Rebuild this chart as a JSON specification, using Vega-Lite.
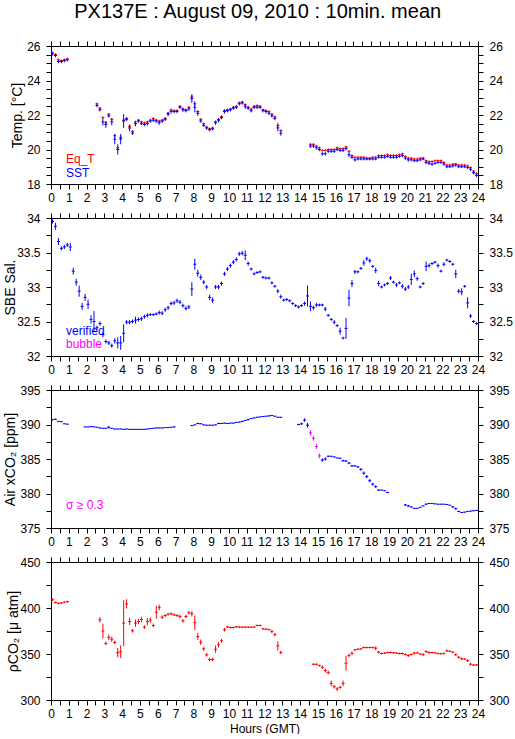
{
"$schema":"https://vega.github.io/schema/vega-lite/v6.json",
"padding":{"left":2,"top":2,"right":0,"bottom":0},
"title":{"text":"PX137E : August 09, 2010 : 10min. mean","fontSize":20,"fontWeight":"normal","font":"Liberation Sans","color":"#000","anchor":"middle","offset":18},
"datasets":{
"eqt":[{"t":0.083,"v":25.6,"e":0.07},{"t":0.25,"v":25.5,"e":0.07},{"t":0.417,"v":25.2,"e":0.07},{"t":0.583,"v":25.15,"e":0.07},{"t":0.75,"v":25.2,"e":0.07},{"t":0.917,"v":25.25,"e":0.07},
{"t":2.583,"v":22.65,"e":0.07},{"t":2.75,"v":22.4,"e":0.07},{"t":2.917,"v":21.85,"e":0.07},{"t":3.083,"v":21.55,"e":0.07},{"t":3.25,"v":22.05,"e":0.07},{"t":3.417,"v":21.75,"e":0.07},{"t":3.583,"v":20.8,"e":0.1},{"t":3.75,"v":20.1,"e":0.1},{"t":3.917,"v":20.7,"e":0.1},{"t":4.083,"v":21.7,"e":0.1},{"t":4.25,"v":21.8,"e":0.07},{"t":4.417,"v":21.35,"e":0.07},{"t":4.583,"v":21.05,"e":0.07},{"t":4.75,"v":21.6,"e":0.07},{"t":4.917,"v":21.7,"e":0.07},{"t":5.083,"v":21.6,"e":0.07},{"t":5.25,"v":21.55,"e":0.07},{"t":5.417,"v":21.6,"e":0.07},{"t":5.583,"v":21.7,"e":0.07},{"t":5.75,"v":21.8,"e":0.07},{"t":5.917,"v":21.7,"e":0.07},{"t":6.083,"v":21.65,"e":0.07},{"t":6.25,"v":21.7,"e":0.07},{"t":6.417,"v":21.8,"e":0.07},{"t":6.583,"v":22.1,"e":0.07},{"t":6.75,"v":22.3,"e":0.07},{"t":6.917,"v":22.25,"e":0.07},{"t":7.083,"v":22.25,"e":0.07},{"t":7.25,"v":22.5,"e":0.07},{"t":7.417,"v":22.35,"e":0.07},{"t":7.583,"v":22.3,"e":0.07},{"t":7.75,"v":22.45,"e":0.07},{"t":7.917,"v":23.05,"e":0.1},{"t":8.083,"v":22.65,"e":0.15},{"t":8.25,"v":22.2,"e":0.07},{"t":8.417,"v":21.75,"e":0.07},{"t":8.583,"v":21.5,"e":0.07},{"t":8.75,"v":21.3,"e":0.07},{"t":8.917,"v":21.2,"e":0.07},{"t":9.083,"v":21.25,"e":0.07},{"t":9.25,"v":21.6,"e":0.07},{"t":9.417,"v":21.75,"e":0.07},{"t":9.583,"v":21.9,"e":0.07},{"t":9.75,"v":22.25,"e":0.07},{"t":9.917,"v":22.3,"e":0.07},{"t":10.083,"v":22.35,"e":0.07},{"t":10.25,"v":22.45,"e":0.07},{"t":10.417,"v":22.5,"e":0.07},{"t":10.583,"v":22.7,"e":0.07},{"t":10.75,"v":22.75,"e":0.07},{"t":10.917,"v":22.6,"e":0.07},{"t":11.083,"v":22.45,"e":0.07},{"t":11.25,"v":22.35,"e":0.07},{"t":11.417,"v":22.5,"e":0.07},{"t":11.583,"v":22.55,"e":0.07},{"t":11.75,"v":22.5,"e":0.07},{"t":11.917,"v":22.3,"e":0.07},{"t":12.083,"v":22.25,"e":0.07},{"t":12.25,"v":22.2,"e":0.07},{"t":12.417,"v":22.05,"e":0.07},{"t":12.583,"v":21.9,"e":0.07},{"t":12.75,"v":21.4,"e":0.15},{"t":12.917,"v":21.1,"e":0.07},
{"t":14.583,"v":20.3,"e":0.07},{"t":14.75,"v":20.3,"e":0.07},{"t":14.917,"v":20.2,"e":0.07},{"t":15.083,"v":20.1,"e":0.07},{"t":15.25,"v":19.95,"e":0.07},{"t":15.417,"v":19.95,"e":0.07},{"t":15.583,"v":20.0,"e":0.07},{"t":15.75,"v":20.0,"e":0.07},{"t":15.917,"v":20.0,"e":0.07},{"t":16.083,"v":20.1,"e":0.07},{"t":16.25,"v":20.05,"e":0.07},{"t":16.417,"v":20.05,"e":0.07},{"t":16.583,"v":20.15,"e":0.07},{"t":16.75,"v":19.9,"e":0.07},{"t":16.917,"v":19.65,"e":0.07},{"t":17.083,"v":19.55,"e":0.07},{"t":17.25,"v":19.55,"e":0.07},{"t":17.417,"v":19.55,"e":0.07},{"t":17.583,"v":19.55,"e":0.07},{"t":17.75,"v":19.5,"e":0.07},{"t":17.917,"v":19.5,"e":0.07},{"t":18.083,"v":19.55,"e":0.07},{"t":18.25,"v":19.55,"e":0.07},{"t":18.417,"v":19.65,"e":0.07},{"t":18.583,"v":19.65,"e":0.07},{"t":18.75,"v":19.65,"e":0.07},{"t":18.917,"v":19.7,"e":0.07},{"t":19.083,"v":19.65,"e":0.07},{"t":19.25,"v":19.65,"e":0.07},{"t":19.417,"v":19.65,"e":0.07},{"t":19.583,"v":19.7,"e":0.07},{"t":19.75,"v":19.75,"e":0.07},{"t":19.917,"v":19.6,"e":0.07},{"t":20.083,"v":19.5,"e":0.07},{"t":20.25,"v":19.5,"e":0.07},{"t":20.417,"v":19.45,"e":0.07},{"t":20.583,"v":19.45,"e":0.07},{"t":20.75,"v":19.5,"e":0.07},{"t":20.917,"v":19.5,"e":0.07},{"t":21.083,"v":19.35,"e":0.07},{"t":21.25,"v":19.3,"e":0.07},{"t":21.417,"v":19.3,"e":0.07},{"t":21.583,"v":19.35,"e":0.07},{"t":21.75,"v":19.35,"e":0.07},{"t":21.917,"v":19.35,"e":0.07},{"t":22.083,"v":19.25,"e":0.07},{"t":22.25,"v":19.1,"e":0.07},{"t":22.417,"v":19.1,"e":0.07},{"t":22.583,"v":19.15,"e":0.07},{"t":22.75,"v":19.15,"e":0.07},{"t":22.917,"v":19.1,"e":0.07},{"t":23.083,"v":19.1,"e":0.07},{"t":23.25,"v":19.1,"e":0.07},{"t":23.417,"v":19.05,"e":0.07},{"t":23.583,"v":18.95,"e":0.07},{"t":23.75,"v":18.75,"e":0.07},{"t":23.917,"v":18.6,"e":0.07}],
"sst":[{"t":0.083,"v":25.55,"e":0.1},{"t":0.25,"v":25.45,"e":0.1},{"t":0.417,"v":25.1,"e":0.1},{"t":0.583,"v":25.1,"e":0.1},{"t":0.75,"v":25.15,"e":0.1},{"t":0.917,"v":25.2,"e":0.1},
{"t":2.583,"v":22.55,"e":0.1},{"t":2.75,"v":22.3,"e":0.1},{"t":2.917,"v":21.6,"e":0.2},{"t":3.083,"v":21.45,"e":0.2},{"t":3.25,"v":21.95,"e":0.1},{"t":3.417,"v":21.6,"e":0.2},{"t":3.583,"v":20.6,"e":0.3},{"t":3.75,"v":20.0,"e":0.3},{"t":3.917,"v":20.6,"e":0.3},{"t":4.083,"v":21.65,"e":0.4},{"t":4.25,"v":21.75,"e":0.1},{"t":4.417,"v":21.25,"e":0.2},{"t":4.583,"v":20.95,"e":0.1},{"t":4.75,"v":21.5,"e":0.15},{"t":4.917,"v":21.65,"e":0.1},{"t":5.083,"v":21.5,"e":0.1},{"t":5.25,"v":21.45,"e":0.1},{"t":5.417,"v":21.5,"e":0.1},{"t":5.583,"v":21.65,"e":0.1},{"t":5.75,"v":21.7,"e":0.1},{"t":5.917,"v":21.65,"e":0.1},{"t":6.083,"v":21.55,"e":0.12},{"t":6.25,"v":21.65,"e":0.1},{"t":6.417,"v":21.75,"e":0.1},{"t":6.583,"v":22.05,"e":0.12},{"t":6.75,"v":22.2,"e":0.12},{"t":6.917,"v":22.2,"e":0.1},{"t":7.083,"v":22.2,"e":0.1},{"t":7.25,"v":22.45,"e":0.1},{"t":7.417,"v":22.3,"e":0.12},{"t":7.583,"v":22.25,"e":0.1},{"t":7.75,"v":22.35,"e":0.1},{"t":7.917,"v":22.95,"e":0.25},{"t":8.083,"v":22.45,"e":0.3},{"t":8.25,"v":22.1,"e":0.15},{"t":8.417,"v":21.65,"e":0.1},{"t":8.583,"v":21.4,"e":0.1},{"t":8.75,"v":21.25,"e":0.1},{"t":8.917,"v":21.15,"e":0.1},{"t":9.083,"v":21.2,"e":0.1},{"t":9.25,"v":21.55,"e":0.12},{"t":9.417,"v":21.7,"e":0.12},{"t":9.583,"v":21.85,"e":0.1},{"t":9.75,"v":22.2,"e":0.12},{"t":9.917,"v":22.25,"e":0.1},{"t":10.083,"v":22.3,"e":0.1},{"t":10.25,"v":22.4,"e":0.1},{"t":10.417,"v":22.45,"e":0.1},{"t":10.583,"v":22.65,"e":0.1},{"t":10.75,"v":22.7,"e":0.1},{"t":10.917,"v":22.5,"e":0.15},{"t":11.083,"v":22.4,"e":0.1},{"t":11.25,"v":22.25,"e":0.1},{"t":11.417,"v":22.45,"e":0.1},{"t":11.583,"v":22.45,"e":0.1},{"t":11.75,"v":22.45,"e":0.1},{"t":11.917,"v":22.25,"e":0.1},{"t":12.083,"v":22.2,"e":0.1},{"t":12.25,"v":22.1,"e":0.1},{"t":12.417,"v":21.95,"e":0.1},{"t":12.583,"v":21.8,"e":0.1},{"t":12.75,"v":21.25,"e":0.2},{"t":12.917,"v":20.95,"e":0.15},
{"t":14.583,"v":20.2,"e":0.1},{"t":14.75,"v":20.2,"e":0.1},{"t":14.917,"v":20.1,"e":0.1},{"t":15.083,"v":20.0,"e":0.1},{"t":15.25,"v":19.75,"e":0.1},{"t":15.417,"v":19.75,"e":0.1},{"t":15.583,"v":19.9,"e":0.1},{"t":15.75,"v":19.9,"e":0.1},{"t":15.917,"v":19.9,"e":0.1},{"t":16.083,"v":20.0,"e":0.1},{"t":16.25,"v":19.95,"e":0.1},{"t":16.417,"v":19.95,"e":0.1},{"t":16.583,"v":20.05,"e":0.1},{"t":16.75,"v":19.7,"e":0.15},{"t":16.917,"v":19.55,"e":0.1},{"t":17.083,"v":19.4,"e":0.1},{"t":17.25,"v":19.45,"e":0.08},{"t":17.417,"v":19.45,"e":0.08},{"t":17.583,"v":19.45,"e":0.08},{"t":17.75,"v":19.45,"e":0.08},{"t":17.917,"v":19.45,"e":0.08},{"t":18.083,"v":19.45,"e":0.08},{"t":18.25,"v":19.45,"e":0.08},{"t":18.417,"v":19.55,"e":0.08},{"t":18.583,"v":19.55,"e":0.08},{"t":18.75,"v":19.55,"e":0.08},{"t":18.917,"v":19.6,"e":0.08},{"t":19.083,"v":19.55,"e":0.08},{"t":19.25,"v":19.55,"e":0.08},{"t":19.417,"v":19.55,"e":0.08},{"t":19.583,"v":19.6,"e":0.08},{"t":19.75,"v":19.65,"e":0.1},{"t":19.917,"v":19.5,"e":0.1},{"t":20.083,"v":19.4,"e":0.1},{"t":20.25,"v":19.4,"e":0.08},{"t":20.417,"v":19.35,"e":0.08},{"t":20.583,"v":19.35,"e":0.08},{"t":20.75,"v":19.4,"e":0.08},{"t":20.917,"v":19.45,"e":0.08},{"t":21.083,"v":19.25,"e":0.1},{"t":21.25,"v":19.2,"e":0.1},{"t":21.417,"v":19.15,"e":0.1},{"t":21.583,"v":19.2,"e":0.08},{"t":21.75,"v":19.25,"e":0.08},{"t":21.917,"v":19.25,"e":0.08},{"t":22.083,"v":19.15,"e":0.1},{"t":22.25,"v":19.0,"e":0.08},{"t":22.417,"v":19.0,"e":0.08},{"t":22.583,"v":19.05,"e":0.1},{"t":22.75,"v":19.1,"e":0.1},{"t":22.917,"v":19.0,"e":0.08},{"t":23.083,"v":19.0,"e":0.08},{"t":23.25,"v":19.0,"e":0.08},{"t":23.417,"v":18.95,"e":0.08},{"t":23.583,"v":18.85,"e":0.1},{"t":23.75,"v":18.65,"e":0.1},{"t":23.917,"v":18.5,"e":0.1}],
"sal":[{"t":0.083,"v":33.95,"e":0.03},{"t":0.25,"v":33.88,"e":0.05},{"t":0.417,"v":33.66,"e":0.05},{"t":0.583,"v":33.56,"e":0.03},{"t":0.75,"v":33.58,"e":0.03},{"t":0.917,"v":33.61,"e":0.03},{"t":1.083,"v":33.58,"e":0.06},{"t":1.25,"v":33.23,"e":0.05},{"t":1.417,"v":33.07,"e":0.05},{"t":1.583,"v":32.94,"e":0.08},{"t":1.75,"v":32.72,"e":0.05},{"t":1.917,"v":32.85,"e":0.05},{"t":2.083,"v":32.75,"e":0.07},{"t":2.25,"v":32.53,"e":0.06},{"t":2.417,"v":32.5,"e":0.15},{"t":2.583,"v":32.41,"e":0.03},{"t":2.75,"v":32.47,"e":0.03},{"t":2.917,"v":32.31,"e":0.04},{"t":3.083,"v":32.21,"e":0.03},{"t":3.25,"v":32.19,"e":0.03},{"t":3.417,"v":32.15,"e":0.03},{"t":3.583,"v":32.22,"e":0.04},{"t":3.75,"v":32.19,"e":0.08},{"t":3.917,"v":32.19,"e":0.1},{"t":4.083,"v":32.33,"e":0.13},{"t":4.25,"v":32.49,"e":0.03},{"t":4.417,"v":32.49,"e":0.03},{"t":4.583,"v":32.5,"e":0.03},{"t":4.75,"v":32.52,"e":0.05},{"t":4.917,"v":32.53,"e":0.03},{"t":5.083,"v":32.54,"e":0.03},{"t":5.25,"v":32.57,"e":0.03},{"t":5.417,"v":32.59,"e":0.03},{"t":5.583,"v":32.6,"e":0.02},{"t":5.75,"v":32.6,"e":0.02},{"t":5.917,"v":32.61,"e":0.02},{"t":6.083,"v":32.63,"e":0.03},{"t":6.25,"v":32.62,"e":0.03},{"t":6.417,"v":32.67,"e":0.03},{"t":6.583,"v":32.7,"e":0.03},{"t":6.75,"v":32.76,"e":0.03},{"t":6.917,"v":32.77,"e":0.03},{"t":7.083,"v":32.8,"e":0.03},{"t":7.25,"v":32.78,"e":0.03},{"t":7.417,"v":32.73,"e":0.03},{"t":7.583,"v":32.69,"e":0.03},{"t":7.75,"v":32.71,"e":0.03},{"t":7.917,"v":32.97,"e":0.1},{"t":8.083,"v":33.33,"e":0.08},{"t":8.25,"v":33.2,"e":0.05},{"t":8.417,"v":33.14,"e":0.04},{"t":8.583,"v":33.07,"e":0.03},{"t":8.75,"v":33.0,"e":0.03},{"t":8.917,"v":32.85,"e":0.04},{"t":9.083,"v":32.81,"e":0.04},{"t":9.25,"v":33.0,"e":0.03},{"t":9.417,"v":33.0,"e":0.03},{"t":9.583,"v":33.05,"e":0.03},{"t":9.75,"v":33.19,"e":0.03},{"t":9.917,"v":33.26,"e":0.03},{"t":10.083,"v":33.31,"e":0.03},{"t":10.25,"v":33.36,"e":0.03},{"t":10.417,"v":33.4,"e":0.03},{"t":10.583,"v":33.48,"e":0.03},{"t":10.75,"v":33.49,"e":0.03},{"t":10.917,"v":33.46,"e":0.07},{"t":11.083,"v":33.34,"e":0.03},{"t":11.25,"v":33.26,"e":0.02},{"t":11.417,"v":33.19,"e":0.02},{"t":11.583,"v":33.21,"e":0.02},{"t":11.75,"v":33.22,"e":0.02},{"t":11.917,"v":33.14,"e":0.02},{"t":12.083,"v":33.13,"e":0.02},{"t":12.25,"v":33.13,"e":0.02},{"t":12.417,"v":33.06,"e":0.02},{"t":12.583,"v":33.01,"e":0.02},{"t":12.75,"v":32.94,"e":0.03},{"t":12.917,"v":32.86,"e":0.03},{"t":13.083,"v":32.81,"e":0.02},{"t":13.25,"v":32.82,"e":0.02},{"t":13.417,"v":32.8,"e":0.02},{"t":13.583,"v":32.76,"e":0.02},{"t":13.75,"v":32.73,"e":0.02},{"t":13.917,"v":32.71,"e":0.02},{"t":14.083,"v":32.73,"e":0.02},{"t":14.25,"v":32.76,"e":0.03},{"t":14.417,"v":32.87,"e":0.15},{"t":14.583,"v":32.72,"e":0.07},{"t":14.75,"v":32.7,"e":0.03},{"t":14.917,"v":32.74,"e":0.03},{"t":15.083,"v":32.74,"e":0.02},{"t":15.25,"v":32.74,"e":0.02},{"t":15.417,"v":32.68,"e":0.03},{"t":15.583,"v":32.59,"e":0.02},{"t":15.75,"v":32.53,"e":0.02},{"t":15.917,"v":32.49,"e":0.03},{"t":16.083,"v":32.44,"e":0.02},{"t":16.25,"v":32.36,"e":0.05},{"t":16.417,"v":32.26,"e":0.02},{"t":16.583,"v":32.4,"e":0.15},{"t":16.75,"v":32.84,"e":0.12},{"t":16.917,"v":33.05,"e":0.05},{"t":17.083,"v":33.22,"e":0.03},{"t":17.25,"v":33.22,"e":0.02},{"t":17.417,"v":33.27,"e":0.02},{"t":17.583,"v":33.35,"e":0.04},{"t":17.75,"v":33.41,"e":0.03},{"t":17.917,"v":33.38,"e":0.03},{"t":18.083,"v":33.3,"e":0.02},{"t":18.25,"v":33.24,"e":0.04},{"t":18.417,"v":33.05,"e":0.04},{"t":18.583,"v":33.0,"e":0.02},{"t":18.75,"v":33.03,"e":0.02},{"t":18.917,"v":33.05,"e":0.02},{"t":19.083,"v":33.13,"e":0.03},{"t":19.25,"v":33.07,"e":0.02},{"t":19.417,"v":33.03,"e":0.03},{"t":19.583,"v":33.06,"e":0.02},{"t":19.75,"v":33.01,"e":0.03},{"t":19.917,"v":32.97,"e":0.03},{"t":20.083,"v":33.0,"e":0.03},{"t":20.25,"v":33.11,"e":0.08},{"t":20.417,"v":33.19,"e":0.05},{"t":20.583,"v":33.12,"e":0.03},{"t":20.75,"v":33.0,"e":0.02},{"t":20.917,"v":33.05,"e":0.02},{"t":21.083,"v":33.3,"e":0.07},{"t":21.25,"v":33.31,"e":0.03},{"t":21.417,"v":33.34,"e":0.02},{"t":21.583,"v":33.36,"e":0.02},{"t":21.75,"v":33.31,"e":0.03},{"t":21.917,"v":33.23,"e":0.02},{"t":22.083,"v":33.33,"e":0.03},{"t":22.25,"v":33.39,"e":0.02},{"t":22.417,"v":33.37,"e":0.02},{"t":22.583,"v":33.33,"e":0.02},{"t":22.75,"v":33.19,"e":0.06},{"t":22.917,"v":32.94,"e":0.03},{"t":23.083,"v":32.93,"e":0.05},{"t":23.25,"v":33.01,"e":0.02},{"t":23.417,"v":32.77,"e":0.08},{"t":23.583,"v":32.58,"e":0.03},{"t":23.75,"v":32.5,"e":0.02},{"t":23.917,"v":32.47,"e":0.02}],
"air":[{"t":0.083,"v":390.7,"e":0.1},{"t":0.25,"v":390.75,"e":0.1},{"t":0.417,"v":390.45,"e":0.05},{"t":0.583,"v":390.4,"e":0.05},{"t":0.75,"v":390.1,"e":0.05},{"t":0.917,"v":390.05,"e":0.05},
{"t":1.917,"v":389.65,"e":0.05},{"t":2.083,"v":389.65,"e":0.05},{"t":2.25,"v":389.7,"e":0.1},{"t":2.417,"v":389.65,"e":0.05},{"t":2.583,"v":389.6,"e":0.05},{"t":2.75,"v":389.5,"e":0.05},{"t":2.917,"v":389.45,"e":0.05},{"t":3.083,"v":389.45,"e":0.05},{"t":3.25,"v":389.6,"e":0.2},{"t":3.417,"v":389.45,"e":0.05},{"t":3.583,"v":389.35,"e":0.05},{"t":3.75,"v":389.35,"e":0.05},{"t":3.917,"v":389.35,"e":0.05},{"t":4.083,"v":389.3,"e":0.05},{"t":4.25,"v":389.35,"e":0.05},{"t":4.417,"v":389.3,"e":0.05},{"t":4.583,"v":389.3,"e":0.05},{"t":4.75,"v":389.3,"e":0.05},{"t":4.917,"v":389.3,"e":0.05},{"t":5.083,"v":389.3,"e":0.05},{"t":5.25,"v":389.3,"e":0.05},{"t":5.417,"v":389.35,"e":0.05},{"t":5.583,"v":389.4,"e":0.05},{"t":5.75,"v":389.45,"e":0.05},{"t":5.917,"v":389.5,"e":0.05},{"t":6.083,"v":389.5,"e":0.05},{"t":6.25,"v":389.5,"e":0.05},{"t":6.417,"v":389.55,"e":0.05},{"t":6.583,"v":389.55,"e":0.05},{"t":6.75,"v":389.6,"e":0.05},{"t":6.917,"v":389.65,"e":0.1},
{"t":7.917,"v":389.85,"e":0.05},{"t":8.083,"v":389.95,"e":0.05},{"t":8.25,"v":390.15,"e":0.1},{"t":8.417,"v":390.1,"e":0.05},{"t":8.583,"v":389.95,"e":0.05},{"t":8.75,"v":389.9,"e":0.05},{"t":8.917,"v":389.9,"e":0.05},{"t":9.083,"v":389.9,"e":0.05},{"t":9.25,"v":389.95,"e":0.05},{"t":9.417,"v":390.15,"e":0.1},{"t":9.583,"v":390.15,"e":0.05},{"t":9.75,"v":390.2,"e":0.05},{"t":9.917,"v":390.15,"e":0.05},{"t":10.083,"v":390.2,"e":0.05},{"t":10.25,"v":390.2,"e":0.05},{"t":10.417,"v":390.3,"e":0.05},{"t":10.583,"v":390.35,"e":0.05},{"t":10.75,"v":390.45,"e":0.1},{"t":10.917,"v":390.6,"e":0.05},{"t":11.083,"v":390.7,"e":0.1},{"t":11.25,"v":390.85,"e":0.05},{"t":11.417,"v":390.95,"e":0.05},{"t":11.583,"v":391.05,"e":0.05},{"t":11.75,"v":391.1,"e":0.05},{"t":11.917,"v":391.15,"e":0.05},{"t":12.083,"v":391.2,"e":0.05},{"t":12.25,"v":391.25,"e":0.1},{"t":12.417,"v":391.3,"e":0.05},{"t":12.583,"v":391.2,"e":0.05},{"t":12.75,"v":391.05,"e":0.05},{"t":12.917,"v":391.05,"e":0.05},
{"t":13.917,"v":390.0,"e":0.1},{"t":14.083,"v":390.1,"e":0.15},{"t":14.25,"v":390.65,"e":0.25},{"t":14.417,"v":389.9,"e":0.35},
{"t":15.25,"v":384.85,"e":0.25},{"t":15.417,"v":385.0,"e":0.25},{"t":15.583,"v":385.4,"e":0.1},{"t":15.75,"v":385.4,"e":0.05},{"t":15.917,"v":385.3,"e":0.05},{"t":16.083,"v":385.15,"e":0.05},{"t":16.25,"v":385.1,"e":0.1},{"t":16.417,"v":384.75,"e":0.15},{"t":16.583,"v":384.7,"e":0.15},{"t":16.75,"v":384.4,"e":0.15},{"t":16.917,"v":384.0,"e":0.15},{"t":17.083,"v":384.0,"e":0.1},{"t":17.25,"v":383.85,"e":0.15},{"t":17.417,"v":383.5,"e":0.2},{"t":17.583,"v":382.95,"e":0.25},{"t":17.75,"v":382.45,"e":0.25},{"t":17.917,"v":381.85,"e":0.25},{"t":18.083,"v":381.35,"e":0.2},{"t":18.25,"v":381.0,"e":0.2},{"t":18.417,"v":380.5,"e":0.1},{"t":18.583,"v":380.5,"e":0.05},{"t":18.75,"v":380.4,"e":0.05},{"t":18.917,"v":380.15,"e":0.1},
{"t":19.917,"v":378.35,"e":0.15},{"t":20.083,"v":378.2,"e":0.15},{"t":20.25,"v":378.05,"e":0.1},{"t":20.417,"v":377.85,"e":0.05},{"t":20.583,"v":377.85,"e":0.05},{"t":20.75,"v":378.0,"e":0.05},{"t":20.917,"v":378.2,"e":0.05},{"t":21.083,"v":378.45,"e":0.1},{"t":21.25,"v":378.55,"e":0.05},{"t":21.417,"v":378.55,"e":0.05},{"t":21.583,"v":378.5,"e":0.05},{"t":21.75,"v":378.45,"e":0.05},{"t":21.917,"v":378.45,"e":0.05},{"t":22.083,"v":378.45,"e":0.05},{"t":22.25,"v":378.4,"e":0.05},{"t":22.417,"v":378.3,"e":0.05},{"t":22.583,"v":378.05,"e":0.15},{"t":22.75,"v":377.8,"e":0.15},{"t":22.917,"v":377.4,"e":0.1},{"t":23.083,"v":377.25,"e":0.05},{"t":23.25,"v":377.3,"e":0.05},{"t":23.417,"v":377.4,"e":0.05},{"t":23.583,"v":377.45,"e":0.05},{"t":23.75,"v":377.5,"e":0.05},{"t":23.917,"v":377.55,"e":0.05}],
"airs":[{"t":14.583,"v":388.8,"e":0.4},{"t":14.75,"v":388.0,"e":0.35},{"t":14.917,"v":386.8,"e":0.35},{"t":15.083,"v":385.45,"e":0.35}],
"pco2":[{"t":0.083,"v":409,"e":1.5},{"t":0.25,"v":406,"e":1},{"t":0.417,"v":405,"e":1},{"t":0.583,"v":405.5,"e":1},{"t":0.75,"v":406.3,"e":1},{"t":0.917,"v":406.8,"e":1},
{"t":2.75,"v":387.2,"e":3},{"t":2.917,"v":375,"e":8},{"t":3.083,"v":361.5,"e":2},{"t":3.25,"v":368,"e":3},{"t":3.417,"v":366,"e":3},{"t":3.583,"v":362.5,"e":2},{"t":3.75,"v":351.5,"e":5},{"t":3.917,"v":352.5,"e":7},{"t":4.083,"v":383.5,"e":25},{"t":4.25,"v":404.5,"e":5},{"t":4.417,"v":385.3,"e":4},{"t":4.583,"v":375.2,"e":2},{"t":4.75,"v":383.5,"e":4},{"t":4.917,"v":385.3,"e":3},{"t":5.083,"v":387.5,"e":3},{"t":5.25,"v":379.2,"e":2},{"t":5.417,"v":385.3,"e":4},{"t":5.583,"v":386.8,"e":3},{"t":5.75,"v":381,"e":2},{"t":5.917,"v":395.5,"e":7},{"t":6.083,"v":400.6,"e":3},{"t":6.25,"v":390,"e":2},{"t":6.417,"v":391.8,"e":1.5},{"t":6.583,"v":393.2,"e":1.5},{"t":6.75,"v":393.7,"e":1.5},{"t":6.917,"v":392.6,"e":1.5},{"t":7.083,"v":391.8,"e":1.5},{"t":7.25,"v":390.8,"e":2},{"t":7.417,"v":386,"e":2},{"t":7.583,"v":390.8,"e":2},{"t":7.75,"v":394.8,"e":2},{"t":7.917,"v":393.8,"e":3},{"t":8.083,"v":384,"e":8},{"t":8.25,"v":369,"e":4},{"t":8.417,"v":362.8,"e":3},{"t":8.583,"v":355.6,"e":2},{"t":8.75,"v":349,"e":2},{"t":8.917,"v":344,"e":2},{"t":9.083,"v":344,"e":2},{"t":9.25,"v":355.2,"e":4},{"t":9.417,"v":360,"e":3},{"t":9.583,"v":364.3,"e":2},{"t":9.75,"v":376.3,"e":2},{"t":9.917,"v":379.5,"e":1},{"t":10.083,"v":378.8,"e":1},{"t":10.25,"v":378.8,"e":1},{"t":10.417,"v":379.5,"e":1},{"t":10.583,"v":379.2,"e":1},{"t":10.75,"v":379.2,"e":1},{"t":10.917,"v":379.2,"e":1},{"t":11.083,"v":379.2,"e":1},{"t":11.25,"v":379.2,"e":1},{"t":11.417,"v":379.2,"e":1},{"t":11.583,"v":381,"e":1},{"t":11.75,"v":381,"e":1},{"t":11.917,"v":377.4,"e":1},{"t":12.083,"v":377,"e":1},{"t":12.25,"v":376.5,"e":1},{"t":12.417,"v":374.4,"e":2},{"t":12.583,"v":371,"e":2},{"t":12.75,"v":358.8,"e":5},{"t":12.917,"v":351.6,"e":2},
{"t":14.75,"v":338.8,"e":1},{"t":14.917,"v":338.8,"e":1},{"t":15.083,"v":337.4,"e":1},{"t":15.25,"v":335.6,"e":2},{"t":15.417,"v":332,"e":2},{"t":15.583,"v":329.8,"e":2},{"t":15.75,"v":318.1,"e":3},{"t":15.917,"v":314.5,"e":2},{"t":16.083,"v":312,"e":2},{"t":16.25,"v":313.8,"e":1.5},{"t":16.417,"v":318.1,"e":3},{"t":16.583,"v":340,"e":8},{"t":16.75,"v":348.3,"e":2},{"t":16.917,"v":350.8,"e":2},{"t":17.083,"v":354.5,"e":1},{"t":17.25,"v":355.2,"e":1},{"t":17.417,"v":355.6,"e":1},{"t":17.583,"v":357,"e":1},{"t":17.75,"v":357,"e":1},{"t":17.917,"v":357,"e":1},{"t":18.083,"v":357,"e":1},{"t":18.25,"v":356.3,"e":2},{"t":18.417,"v":352,"e":1.5},{"t":18.583,"v":350.5,"e":1},{"t":18.75,"v":351,"e":1},{"t":18.917,"v":351.6,"e":1},{"t":19.083,"v":351.6,"e":1},{"t":19.25,"v":351.3,"e":1},{"t":19.417,"v":351,"e":1},{"t":19.583,"v":350.5,"e":1},{"t":19.75,"v":350.5,"e":1},{"t":19.917,"v":349.5,"e":1},{"t":20.083,"v":348.3,"e":1.5},{"t":20.25,"v":349.5,"e":1},{"t":20.417,"v":351,"e":1.5},{"t":20.583,"v":351.3,"e":1},{"t":20.75,"v":350,"e":1},{"t":20.917,"v":349.3,"e":1.5},{"t":21.083,"v":352.6,"e":1.5},{"t":21.25,"v":351.6,"e":1.5},{"t":21.417,"v":351.6,"e":1},{"t":21.583,"v":351.3,"e":1},{"t":21.75,"v":350.5,"e":1},{"t":21.917,"v":350.3,"e":1},{"t":22.083,"v":350.5,"e":1},{"t":22.25,"v":353.4,"e":1.5},{"t":22.417,"v":353,"e":1},{"t":22.583,"v":352,"e":1},{"t":22.75,"v":349.2,"e":1.5},{"t":22.917,"v":346.5,"e":1.5},{"t":23.083,"v":344.7,"e":1.5},{"t":23.25,"v":344.5,"e":1},{"t":23.417,"v":342.8,"e":1.5},{"t":23.583,"v":338.9,"e":1.5},{"t":23.75,"v":338,"e":1},{"t":23.917,"v":338.1,"e":1}]
},
"vconcat":[
{"width":427,"height":138,
 "layer":[
  {"data":{"name":"eqt"},"mark":{"type":"rule","xOffset":-1.5,"x2Offset":1.5,"strokeWidth":1},
   "encoding":{
    "x":{"field":"t","type":"quantitative","scale":{"domain":[0,24],"nice":false,"zero":false},
     "axis":{"orient":"bottom","values":[0,0.5,1,1.5,2,2.5,3,3.5,4,4.5,5,5.5,6,6.5,7,7.5,8,8.5,9,9.5,10,10.5,11,11.5,12,12.5,13,13.5,14,14.5,15,15.5,16,16.5,17,17.5,18,18.5,19,19.5,20,20.5,21,21.5,22,22.5,23,23.5,24],"labelExpr":"datum.value % 1 === 0 ? toString(datum.value) : ''","title":null,"labelPadding":3,"labelOverlap":false,"labelFlush":false,"labelBound":false}},
    "x2":{"field":"t"},
    "y":{"field":"v","type":"quantitative","scale":{"domain":[18,26],"nice":false,"zero":false},
     "axis":{"orient":"left","values":[18,18.5,19,19.5,20,20.5,21,21.5,22,22.5,23,23.5,24,24.5,25,25.5,26],"labelExpr":"datum.value % 2 === 0 ? toString(datum.value) : ''","title":"Temp. [°C]","labelPadding":6,"labelOverlap":false,"titleX":-34,"titleBaseline":"middle"}},
    "color":{"datum":"Eq_T","scale":{"domain":["Eq_T","SST"],"range":["#ff0000","#0000ff"]},
     "legend":{"orient":"none","legendX":3,"legendY":107,"direction":"vertical","title":null,"padding":0,"symbolSize":0,"symbolOpacity":0,"symbolStrokeWidth":0,"labelOffset":0,"labelFontSize":12,"labelFont":"Liberation Sans","rowPadding":2,
      "encode":{"labels":{"update":{"fill":{"signal":"datum.value === 'Eq_T' ? '#ff0000' : '#0000ff'"}}}}}}
   }},
  {"data":{"name":"eqt"},"mark":{"type":"errorbar","thickness":1,"color":"#ff0000"},
   "encoding":{
    "x":{"field":"t","type":"quantitative","scale":{"domain":[0,24],"nice":false,"zero":false},
     "axis":{"orient":"top","values":[0,0.5,1,1.5,2,2.5,3,3.5,4,4.5,5,5.5,6,6.5,7,7.5,8,8.5,9,9.5,10,10.5,11,11.5,12,12.5,13,13.5,14,14.5,15,15.5,16,16.5,17,17.5,18,18.5,19,19.5,20,20.5,21,21.5,22,22.5,23,23.5,24],"labels":false,"title":null}},
    "y":{"field":"v","type":"quantitative","scale":{"domain":[18,26],"nice":false,"zero":false},
     "axis":{"orient":"right","values":[18,18.5,19,19.5,20,20.5,21,21.5,22,22.5,23,23.5,24,24.5,25,25.5,26],"labelExpr":"datum.value % 2 === 0 ? toString(datum.value) : ''","title":null,"labelPadding":6,"labelOverlap":false}},
    "yError":{"field":"e"}
   }},
  {"data":{"name":"sst"},"mark":{"type":"rule","xOffset":-1.5,"x2Offset":1.5,"strokeWidth":1},
   "encoding":{
    "x":{"field":"t","type":"quantitative","scale":{"domain":[0,24],"nice":false,"zero":false},"axis":null},
    "x2":{"field":"t"},
    "y":{"field":"v","type":"quantitative","scale":{"domain":[18,26],"nice":false,"zero":false},"axis":null},
    "color":{"datum":"SST"}
   }},
  {"data":{"name":"sst"},"mark":{"type":"errorbar","thickness":1,"color":"#0000ff"},
   "encoding":{
    "x":{"field":"t","type":"quantitative","scale":{"domain":[0,24],"nice":false,"zero":false},"axis":null},
    "y":{"field":"v","type":"quantitative","scale":{"domain":[18,26],"nice":false,"zero":false},"axis":null},
    "yError":{"field":"e"}
   }}
 ],
 "resolve":{"axis":{"x":"independent","y":"independent"}}
},
{"width":427,"height":138,
 "data":{"name":"sal"},
 "layer":[
  {"mark":{"type":"rule","xOffset":-1.5,"x2Offset":1.5,"strokeWidth":1},
   "encoding":{
    "x":{"field":"t","type":"quantitative","scale":{"domain":[0,24],"nice":false,"zero":false},
     "axis":{"orient":"bottom","values":[0,0.5,1,1.5,2,2.5,3,3.5,4,4.5,5,5.5,6,6.5,7,7.5,8,8.5,9,9.5,10,10.5,11,11.5,12,12.5,13,13.5,14,14.5,15,15.5,16,16.5,17,17.5,18,18.5,19,19.5,20,20.5,21,21.5,22,22.5,23,23.5,24],"labelExpr":"datum.value % 1 === 0 ? toString(datum.value) : ''","title":null,"labelPadding":3,"labelOverlap":false,"labelFlush":false,"labelBound":false}},
    "x2":{"field":"t"},
    "y":{"field":"v","type":"quantitative","scale":{"domain":[32,34],"nice":false,"zero":false},
     "axis":{"orient":"left","values":[32,32.25,32.5,32.75,33,33.25,33.5,33.75,34],"labelExpr":"datum.value % 0.5 === 0 ? toString(datum.value) : ''","title":"SBE Sal.","labelPadding":6,"labelOverlap":false,"titleX":-41,"titleBaseline":"middle"}},
    "color":{"datum":"verified","scale":{"domain":["verified","bubble"],"range":["#0000ff","#ff00ff"]},
     "legend":{"orient":"none","legendX":3,"legendY":107,"direction":"vertical","title":null,"padding":0,"symbolSize":0,"symbolOpacity":0,"symbolStrokeWidth":0,"labelOffset":0,"labelFontSize":12,"labelFont":"Liberation Sans","rowPadding":1,
      "encode":{"labels":{"update":{"fill":{"signal":"datum.value === 'verified' ? '#0000ff' : '#ff00ff'"}}}}}}
   }},
  {"mark":{"type":"errorbar","thickness":1,"color":"#0000ff"},
   "encoding":{
    "x":{"field":"t","type":"quantitative","scale":{"domain":[0,24],"nice":false,"zero":false},
     "axis":{"orient":"top","values":[0,0.5,1,1.5,2,2.5,3,3.5,4,4.5,5,5.5,6,6.5,7,7.5,8,8.5,9,9.5,10,10.5,11,11.5,12,12.5,13,13.5,14,14.5,15,15.5,16,16.5,17,17.5,18,18.5,19,19.5,20,20.5,21,21.5,22,22.5,23,23.5,24],"labels":false,"title":null}},
    "y":{"field":"v","type":"quantitative","scale":{"domain":[32,34],"nice":false,"zero":false},
     "axis":{"orient":"right","values":[32,32.25,32.5,32.75,33,33.25,33.5,33.75,34],"labelExpr":"datum.value % 0.5 === 0 ? toString(datum.value) : ''","title":null,"labelPadding":6,"labelOverlap":false}},
    "yError":{"field":"e"}
   }}
 ],
 "resolve":{"axis":{"x":"independent","y":"independent"}}
},
{"width":427,"height":138,
 "layer":[
  {"data":{"name":"air"},"mark":{"type":"rule","xOffset":-1.5,"x2Offset":1.5,"strokeWidth":1},
   "encoding":{
    "x":{"field":"t","type":"quantitative","scale":{"domain":[0,24],"nice":false,"zero":false},
     "axis":{"orient":"bottom","values":[0,0.5,1,1.5,2,2.5,3,3.5,4,4.5,5,5.5,6,6.5,7,7.5,8,8.5,9,9.5,10,10.5,11,11.5,12,12.5,13,13.5,14,14.5,15,15.5,16,16.5,17,17.5,18,18.5,19,19.5,20,20.5,21,21.5,22,22.5,23,23.5,24],"labelExpr":"datum.value % 1 === 0 ? toString(datum.value) : ''","title":null,"labelPadding":3,"labelOverlap":false,"labelFlush":false,"labelBound":false}},
    "x2":{"field":"t"},
    "y":{"field":"v","type":"quantitative","scale":{"domain":[375,395],"nice":false,"zero":false},
     "axis":{"orient":"left","values":[375,377.5,380,382.5,385,387.5,390,392.5,395],"labelExpr":"datum.value % 5 === 0 ? toString(datum.value) : ''","title":"Air xCO₂ [ppm]","labelPadding":6,"labelOverlap":false,"titleX":-41,"titleBaseline":"middle"}},
    "color":{"datum":"verified","scale":{"domain":["verified","σ ≥ 0.3"],"range":["#0000ff","#ff00ff"]},
     "legend":{"orient":"none","legendX":3,"legendY":109,"direction":"vertical","title":null,"padding":0,"values":["σ ≥ 0.3"],"symbolSize":0,"symbolOpacity":0,"symbolStrokeWidth":0,"labelOffset":0,"labelFontSize":12,"labelFont":"Liberation Sans","labelColor":"#ff00ff"}}
   }},
  {"data":{"name":"air"},"mark":{"type":"errorbar","thickness":1,"color":"#0000ff"},
   "encoding":{
    "x":{"field":"t","type":"quantitative","scale":{"domain":[0,24],"nice":false,"zero":false},
     "axis":{"orient":"top","values":[0,0.5,1,1.5,2,2.5,3,3.5,4,4.5,5,5.5,6,6.5,7,7.5,8,8.5,9,9.5,10,10.5,11,11.5,12,12.5,13,13.5,14,14.5,15,15.5,16,16.5,17,17.5,18,18.5,19,19.5,20,20.5,21,21.5,22,22.5,23,23.5,24],"labels":false,"title":null}},
    "y":{"field":"v","type":"quantitative","scale":{"domain":[375,395],"nice":false,"zero":false},
     "axis":{"orient":"right","values":[375,377.5,380,382.5,385,387.5,390,392.5,395],"labelExpr":"datum.value % 5 === 0 ? toString(datum.value) : ''","title":null,"labelPadding":6,"labelOverlap":false}},
    "yError":{"field":"e"}
   }},
  {"data":{"name":"airs"},"mark":{"type":"rule","xOffset":-1.5,"x2Offset":1.5,"strokeWidth":1},
   "encoding":{
    "x":{"field":"t","type":"quantitative","scale":{"domain":[0,24],"nice":false,"zero":false},"axis":null},
    "x2":{"field":"t"},
    "y":{"field":"v","type":"quantitative","scale":{"domain":[375,395],"nice":false,"zero":false},"axis":null},
    "color":{"datum":"σ ≥ 0.3"}
   }},
  {"data":{"name":"airs"},"mark":{"type":"errorbar","thickness":1,"color":"#ff00ff"},
   "encoding":{
    "x":{"field":"t","type":"quantitative","scale":{"domain":[0,24],"nice":false,"zero":false},"axis":null},
    "y":{"field":"v","type":"quantitative","scale":{"domain":[375,395],"nice":false,"zero":false},"axis":null},
    "yError":{"field":"e"}
   }}
 ],
 "resolve":{"axis":{"x":"independent","y":"independent"}}
},
{"width":427,"height":138,
 "data":{"name":"pco2"},
 "layer":[
  {"mark":{"type":"rule","xOffset":-1.5,"x2Offset":1.5,"strokeWidth":1,"color":"#ff0000"},
   "encoding":{
    "x":{"field":"t","type":"quantitative","scale":{"domain":[0,24],"nice":false,"zero":false},
     "axis":{"orient":"bottom","values":[0,0.5,1,1.5,2,2.5,3,3.5,4,4.5,5,5.5,6,6.5,7,7.5,8,8.5,9,9.5,10,10.5,11,11.5,12,12.5,13,13.5,14,14.5,15,15.5,16,16.5,17,17.5,18,18.5,19,19.5,20,20.5,21,21.5,22,22.5,23,23.5,24],"labelExpr":"datum.value % 1 === 0 ? toString(datum.value) : ''","title":"Hours (GMT)","titleFontSize":12,"titlePadding":4,"labelPadding":3,"labelOverlap":false,"labelFlush":false,"labelBound":false}},
    "x2":{"field":"t"},
    "y":{"field":"v","type":"quantitative","scale":{"domain":[300,450],"nice":false,"zero":false},
     "axis":{"orient":"left","values":[300,325,350,375,400,425,450],"labelExpr":"datum.value % 50 === 0 ? toString(datum.value) : ''","title":"ρCO₂ [μ atm]","labelPadding":6,"labelOverlap":false,"titleX":-38,"titleBaseline":"middle"}}
   }},
  {"mark":{"type":"errorbar","thickness":1,"color":"#ff0000"},
   "encoding":{
    "x":{"field":"t","type":"quantitative","scale":{"domain":[0,24],"nice":false,"zero":false},
     "axis":{"orient":"top","values":[0,0.5,1,1.5,2,2.5,3,3.5,4,4.5,5,5.5,6,6.5,7,7.5,8,8.5,9,9.5,10,10.5,11,11.5,12,12.5,13,13.5,14,14.5,15,15.5,16,16.5,17,17.5,18,18.5,19,19.5,20,20.5,21,21.5,22,22.5,23,23.5,24],"labels":false,"title":null}},
    "y":{"field":"v","type":"quantitative","scale":{"domain":[300,450],"nice":false,"zero":false},
     "axis":{"orient":"right","values":[300,325,350,375,400,425,450],"labelExpr":"datum.value % 50 === 0 ? toString(datum.value) : ''","title":null,"labelPadding":6,"labelOverlap":false}},
    "yError":{"field":"e"}
   }}
 ],
 "resolve":{"axis":{"x":"independent","y":"independent"}}
}
],
"spacing":34,
"bounds":"flush",
"resolve":{"scale":{"color":"independent"},"legend":{"color":"independent"}},
"config":{
 "font":"Liberation Sans",
 "view":{"stroke":null},
 "axis":{"domainColor":"#000","tickColor":"#000","labelColor":"#000","titleColor":"#000","labelFont":"Liberation Sans","titleFont":"Liberation Sans","labelFontSize":12,"titleFontSize":14,"titleFontWeight":"normal","tickSize":5,"grid":false,"domainWidth":1,"tickWidth":1}
}
}
